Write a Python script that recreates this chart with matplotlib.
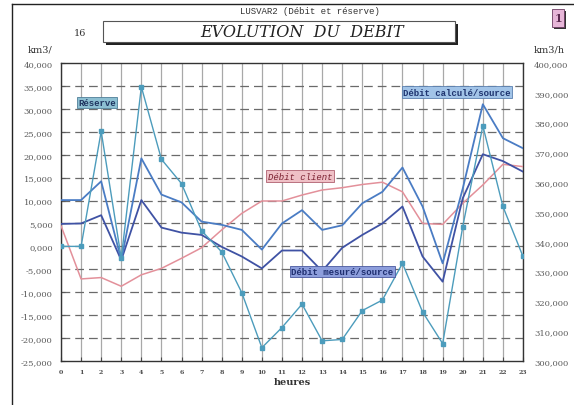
import numpy as np
import matplotlib
matplotlib.use("Agg")
import matplotlib.pyplot as plt
from matplotlib.ticker import FuncFormatter, MultipleLocator
from matplotlib.patches import Rectangle

# ---------------------------------------------
# data (values in km3)
heures = list(range(24))
debit_client = [4500, -7100, -6800, -8700, -6200, -4800, -2600, -300, 3600, 7200,
                9900, 9900, 11200, 12300, 12800, 13500, 14000, 11900, 5000, 4800,
                9400, 13400, 17900, 17400]
reserve = [0, 0, 25100, -2600, 34800, 19000, 13700, 3400, -1200, -10100,
           -22100, -17700, -12600, -20600, -20300, -14000, -11700, -3700, -14300, -21200,
           4300, 26300, 8700, -2200]
debit_calcule = [10100, 10100, 14200, -3000, 19200, 11300, 9600, 5400, 4700, 3600,
                 -700, 5000, 7900, 3600, 4600, 9400, 11900, 17200, 8700, -3700,
                 12600, 31000, 23600, 21400]
debit_mesure = [4900, 5000, 6800, -3000, 10100, 4100, 3000, 2500, -100, -2200,
                -4800, -900, -900, -5400, -300, 2500, 5000, 8700, -2200, -7700,
                10500, 20100, 18600, 16300]

c_client = "#e3909a"
c_reserve = "#4c9cbc"
c_calcule = "#4a7cc4"
c_mesure = "#3f52a4"

serif = "DejaVu Serif"
mono = "Liberation Mono"

#---------------------------------------------
def fmt_left(v, pos):
  return "%d,000" % int(round(v / 1000.0))

def fmt_right(v, pos):
  return "{:,}".format(int(round(v)))

#---------------------------------------------
def Main():
  W, H = 574, 406
  fig = plt.figure(figsize=(W / 100, H / 100), dpi=100)
  fig.patch.set_facecolor("white")

  def px(x, y):
    return x / W, 1 - y / H

  ax = fig.add_axes([61 / W, 1 - 362 / H, (523 - 61) / W, (362 - 64) / H])
  ax.set_xlim(0, 23)
  ax.set_ylim(-25000, 40000)

  # grid: solid verticals every hour, dashed horizontals every 5000
  for h in heures:
    ax.axvline(h, color="#a8a8a8", lw=0.9, zorder=1)
  for v in range(-20000, 40000, 5000):
    ax.axhline(v, color="#6a6a6a", lw=0.9, ls=(0, (7, 4)), zorder=1)

  ax.plot(heures, debit_client, color=c_client, lw=1.1, zorder=3)
  ax.plot(heures, debit_mesure, color=c_mesure, lw=1.3, zorder=3)
  ax.plot(heures, debit_calcule, color=c_calcule, lw=1.3, zorder=3)
  ax.plot(heures, reserve, color=c_reserve, lw=1.0, marker="s", ms=3,
          mfc=c_reserve, mec=c_reserve, zorder=4)

  ax.yaxis.set_major_locator(MultipleLocator(5000))
  ax.yaxis.set_major_formatter(FuncFormatter(fmt_left))
  ax.set_xticks(heures)
  ax.tick_params(axis="y", labelsize=6, colors="#5a5a5a", length=3, direction="in", pad=6)
  ax.tick_params(axis="x", labelsize=4.5, colors="#4a4a4a", length=3, direction="in", pad=6)
  for lab in ax.get_xticklabels():
    lab.set_fontweight("bold")
    lab.set_family(serif)
  for lab in ax.get_yticklabels():
    lab.set_family(serif)
  for sp in ax.spines.values():
    sp.set_color("#333333")
    sp.set_linewidth(1.0)
  ax.set_xlabel("heures", fontsize=7, family=serif, fontweight="bold",
                color="#333333", labelpad=2)

  ax2 = ax.twinx()
  ax2.set_ylim(300000, 400000)
  ax2.yaxis.set_major_locator(MultipleLocator(10000))
  ax2.yaxis.set_major_formatter(FuncFormatter(fmt_right))
  ax2.tick_params(axis="y", labelsize=6, colors="#5a5a5a", length=0, pad=8)
  for lab in ax2.get_yticklabels():
    lab.set_family(serif)
  for sp in ax2.spines.values():
    sp.set_visible(False)

  # series labels
  box = dict(boxstyle="square,pad=0.15", lw=0.6)
  ax.text(1.8, 31400, "Réserve", fontsize=6.5, family=mono, fontweight="bold",
          color="#1f3560", ha="center", va="center", zorder=6,
          bbox=dict(box, fc="#8cbfd2", ec="#4f7f98"))
  ax.text(11.9, 15300, "Débit client", fontsize=6.5, family=mono, style="italic",
          color="#7a2030", ha="center", va="center", zorder=6,
          bbox=dict(box, fc="#efc0c6", ec="#b06070"))
  ax.text(19.7, 33600, "Débit calculé/source", fontsize=6.5, family=mono,
          fontweight="bold", color="#1f3570", ha="center", va="center", zorder=6,
          bbox=dict(box, fc="#a2c4e8", ec="#5a80b0"))
  ax.text(14.0, -5500, "Débit mesuré/source", fontsize=6.5, family=mono,
          fontweight="bold", color="#1f2f70", ha="center", va="center", zorder=6,
          bbox=dict(box, fc="#8d9edc", ec="#4a5aa0"))

  # frame of the page
  fig.add_artist(plt.Line2D([12 / W, 12 / W], [0, 1 - 5 / H], color="#222222",
                            lw=1.0, transform=fig.transFigure))
  fig.add_artist(plt.Line2D([12 / W, 1], [1 - 5 / H, 1 - 5 / H], color="#222222",
                            lw=1.0, transform=fig.transFigure))

  # title box with shadow
  x0, y0 = px(103, 43)
  x1, y1 = px(455, 22)
  fig.add_artist(Rectangle((x0 + 3 / W, y0 - 3 / H), x1 - x0, y1 - y0,
                           transform=fig.transFigure, fc="#222222", ec="none"))
  fig.add_artist(Rectangle((x0, y0), x1 - x0, y1 - y0, transform=fig.transFigure,
                           fc="white", ec="#555555", lw=0.8))
  fig.text(302 / W, (y0 + y1) / 2, "EVOLUTION  DU  DEBIT", fontsize=11.5,
           family=serif, style="italic", color="#222222", ha="center", va="center")

  fig.text(*px(310, 12), "LUSVAR2 (Débit et réserve)", fontsize=6.5, family=mono,
           color="#333333", ha="center", va="center")
  fig.text(*px(80, 33), "16", fontsize=7, family=serif, color="#333333",
           ha="center", va="center")
  fig.text(*px(40, 50), "km3/", fontsize=7, family=serif, color="#333333",
           ha="center", va="center")
  fig.text(*px(549, 50), "km3/h", fontsize=7, family=serif, color="#333333",
           ha="center", va="center")

  # page number tag
  bx0, by0 = px(552, 28)
  bx1, by1 = px(564, 10)
  fig.add_artist(Rectangle((bx0 + 2 / W, by0 - 2 / H), bx1 - bx0, by1 - by0,
                           transform=fig.transFigure, fc="#333333", ec="none"))
  fig.add_artist(Rectangle((bx0, by0), bx1 - bx0, by1 - by0, transform=fig.transFigure,
                           fc="#e7b6d8", ec="#6a3a60", lw=0.6))
  fig.text((bx0 + bx1) / 2, (by0 + by1) / 2, "1", fontsize=8, family=serif,
           fontweight="bold", color="#5a2a50", ha="center", va="center")

  fig.savefig("out.png", dpi=100)

if __name__ == '__main__':
  Main()
